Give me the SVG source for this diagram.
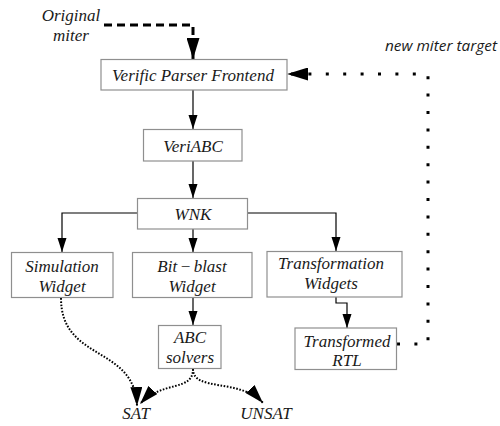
<svg xmlns="http://www.w3.org/2000/svg" width="500" height="426" viewBox="0 0 500 426">
<defs>
<style>
.box{fill:#fff;stroke:#8f8f8f;stroke-width:1.2}
.t{font-family:"Liberation Serif",serif;font-style:italic;font-size:17px;fill:#1a1a1a;text-anchor:middle}
.s{font-family:"Open Sans",sans-serif;font-style:italic;font-size:14.5px;fill:#1a1a1a}
.c{fill:none;stroke:#000;stroke-width:1.2}
.dash{fill:none;stroke:#000;stroke-width:3;stroke-dasharray:8 5}
.dots{fill:none;stroke:#000;stroke-width:3;stroke-dasharray:3 14.4}
.fine{fill:none;stroke:#000;stroke-width:2;stroke-dasharray:1.6 1.6}
</style>
<marker id="a" markerUnits="userSpaceOnUse" markerWidth="14" markerHeight="10" refX="14" refY="5" orient="auto"><path d="M0,0.5 L14,5 L0,9.5 z" fill="#000"/></marker>
<marker id="b" markerUnits="userSpaceOnUse" markerWidth="21" markerHeight="13" refX="21" refY="6.5" orient="auto"><path d="M0,0 L21,6.5 L0,13 z" fill="#000"/></marker>
<marker id="d" markerUnits="userSpaceOnUse" markerWidth="19" markerHeight="12" refX="19" refY="6" orient="auto"><path d="M0,0 L19,6 L0,12 z" fill="#000"/></marker>
</defs>
<rect width="500" height="426" fill="#fff"/>
<g id="connectors">
<path class="dash" d="M104,25 H193 V59" marker-end="url(#b)"/>
<path class="c" d="M193,90 V129" marker-end="url(#a)"/>
<path class="c" d="M193,161 V198" marker-end="url(#a)"/>
<path class="c" d="M137,213 H62 V252" marker-end="url(#a)"/>
<path class="c" d="M193,229 V252" marker-end="url(#a)"/>
<path class="c" d="M247,213 H336 V251" marker-end="url(#a)"/>
<path class="c" d="M336,297 V303 H347 V328" marker-end="url(#a)"/>
<path class="c" d="M193,297 V325" marker-end="url(#a)"/>
<path class="dots" d="M397,344 H428 V74 H287" marker-end="url(#b)"/>
<path class="fine" d="M61,298 C61,362 135,345 137,406" marker-end="url(#d)"/>
<path class="fine" d="M193,369 C193,392 162,380 140,404" marker-end="url(#d)"/>
<path class="fine" d="M193,369 C193,392 240,378 263,403" marker-end="url(#d)"/>
</g>
<g id="original-miter"><text class="t" x="71" y="21">Original</text><text class="t" x="71" y="41">miter</text></g>
<g id="new-miter-target"><text class="s" x="385" y="51" textLength="112" lengthAdjust="spacingAndGlyphs">new miter target</text></g>
<g id="verific"><rect class="box" x="101" y="59.5" width="186" height="30.5"/><text class="t" x="193" y="81">Verific Parser Frontend</text></g>
<g id="veriabc"><rect class="box" x="143.5" y="129.5" width="98.5" height="31.5"/><text class="t" x="193" y="152">VeriABC</text></g>
<g id="wnk"><rect class="box" x="137.5" y="198.5" width="110" height="30.5"/><text class="t" x="193" y="220">WNK</text></g>
<g id="simulation"><rect class="box" x="11.5" y="252.5" width="101.5" height="45"/><text class="t" x="62" y="272">Simulation</text><text class="t" x="62" y="292">Widget</text></g>
<g id="bitblast"><rect class="box" x="132.5" y="252.5" width="119.5" height="45"/><text class="t" x="192" y="272">Bit<tspan dx="2.5">−</tspan><tspan dx="2.5">blast</tspan></text><text class="t" x="192" y="292">Widget</text></g>
<g id="transformation"><rect class="box" x="267" y="251.5" width="135" height="45.5"/><text class="t" x="331" y="269">Transformation</text><text class="t" x="331" y="289">Widgets</text></g>
<g id="transformed"><rect class="box" x="295" y="328" width="101.5" height="41.5"/><text class="t" x="347" y="347">Transformed</text><text class="t" x="347" y="366">RTL</text></g>
<g id="abc"><rect class="box" x="158.5" y="325.5" width="62.5" height="43"/><text class="t" x="190" y="343">ABC</text><text class="t" x="190" y="363">solvers</text></g>
<g id="sat"><text class="t" x="136" y="419">SAT</text></g>
<g id="unsat"><text class="t" x="266" y="419">UNSAT</text></g>
</svg>
